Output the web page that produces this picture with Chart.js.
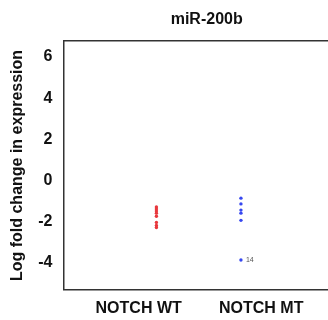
<!DOCTYPE html>
<html>
<head>
<meta charset="utf-8">
<script src="https://cdn.jsdelivr.net/npm/chart.js@4"></script>
<style>
body{margin:0;background:#fff;overflow:hidden;width:328px;height:320px}
canvas{display:block}
</style>
</head>
<body>
<canvas id="myChart" width="354" height="330"></canvas>
<script>
// data
const groups=['NOTCH WT','NOTCH MT'];
const groupX=[1,2];
const labelX=[0.79,2.24];
const wtValues=[-1.3,-1.4,-1.5,-1.6,-1.75,-2.05,-2.2,-2.3];
const mtValues=[-0.87,-1.15,-1.45,-1.6,-1.95,-3.88];
const mtNotes=['','','','','','14'];
const yTicks=[-4,-2,0,2,4,6];

const font='"Liberation Sans", Arial, sans-serif';

const noteLabels={
  id:'noteLabels',
  afterDatasetsDraw(chart){
    const ctx=chart.ctx;
    const meta=chart.getDatasetMeta(1);
    ctx.save();
    ctx.font='7px '+font;
    ctx.fillStyle='#555';
    ctx.textBaseline='middle';
    meta.data.forEach((pt,i)=>{
      if(mtNotes[i]) ctx.fillText(mtNotes[i],pt.x+5,pt.y);
    });
    ctx.restore();
  }
};

const ctx=document.getElementById('myChart');
new Chart(ctx,{
  type:'scatter',
  data:{
    datasets:[
      {label:groups[0],data:wtValues.map(v=>({x:groupX[0],y:v})),
       backgroundColor:'#e8383d',borderColor:'#e8383d',pointRadius:1.7,borderWidth:0},
      {label:groups[1],data:mtValues.map(v=>({x:groupX[1],y:v})),
       backgroundColor:'#3647f0',borderColor:'#3647f0',pointRadius:1.7,borderWidth:0}
    ]
  },
  options:{
    responsive:false,
    animation:false,
    layout:{padding:{top:10,left:8,bottom:3,right:0}},
    plugins:{legend:{display:false},tooltip:{enabled:false}},
    scales:{
      x:{
        type:'linear',min:-0.1,max:3.29,
        grid:{display:false,drawTicks:false},
        border:{display:true,color:'#333',width:1.5},
        afterBuildTicks:axis=>{axis.ticks=labelX.map(v=>({value:v}))},
        ticks:{
          padding:9,maxRotation:0,autoSkip:false,color:'#111',
          font:{family:font,size:16,weight:'bold'},
          callback:(v,i)=>groups[i]
        }
      },
      xTop:{
        type:'linear',position:'top',min:-0.1,max:3.29,
        grid:{display:false,drawTicks:false},
        border:{display:true,color:'#333',width:1.5},
        ticks:{display:false},
        title:{display:true,text:'miR-200b',color:'#111',padding:{top:0,bottom:12},
          font:{family:font,size:16,weight:'bold'}}
      },
      y:{
        min:-5.33,max:6.77,
        grid:{display:false,drawTicks:false},
        border:{display:true,color:'#333',width:1.5},
        afterBuildTicks:axis=>{axis.ticks=yTicks.map(v=>({value:v}))},
        ticks:{padding:11,color:'#111',font:{family:font,size:16,weight:'bold'}},
        title:{display:true,text:'Log fold change in expression',color:'#111',
          padding:{top:0,bottom:0},font:{family:font,size:16,weight:'bold'}}
      }
    }
  },
  plugins:[noteLabels]
});
</script>
</body>
</html>
